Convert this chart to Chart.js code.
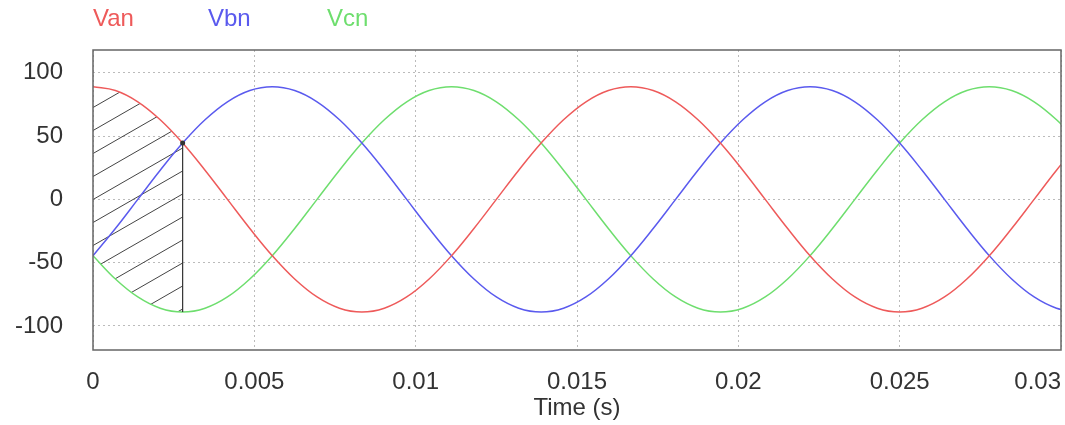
<!DOCTYPE html>
<html>
<head>
<meta charset="utf-8">
<script src="https://cdn.jsdelivr.net/npm/chart.js@4"></script>
<style>
  html, body { margin: 0; padding: 0; background: #fff; }
</style>
</head>
<body>
<canvas id="waveChart" width="1065" height="425"></canvas>
<script>
// Sample times (s), one every 15 degrees of a 60 Hz cycle
const times = [0, 0.000694, 0.001389, 0.002083, 0.002778, 0.003472, 0.004167, 0.004861, 0.005556,
  0.00625, 0.006944, 0.007639, 0.008333, 0.009028, 0.009722, 0.010417, 0.011111, 0.011806, 0.0125,
  0.013194, 0.013889, 0.014583, 0.015278, 0.015972, 0.016667, 0.017361, 0.018056, 0.01875, 0.019444,
  0.020139, 0.020833, 0.021528, 0.022222, 0.022917, 0.023611, 0.024306, 0.025, 0.025694, 0.026389,
  0.027083, 0.027778, 0.028472, 0.029167, 0.029861, 0.030556];

// Phase voltages
const van = [89, 86.0, 77.1, 62.9, 44.5, 23.0, 0, -23.0, -44.5, -62.9, -77.1, -86.0, -89, -86.0, -77.1,
  -62.9, -44.5, -23.0, 0, 23.0, 44.5, 62.9, 77.1, 86.0, 89, 86.0, 77.1, 62.9, 44.5, 23.0, 0, -23.0,
  -44.5, -62.9, -77.1, -86.0, -89, -86.0, -77.1, -62.9, -44.5, -23.0, 0, 23.0, 44.5];
const vbn = [-44.5, -23.0, 0, 23.0, 44.5, 62.9, 77.1, 86.0, 89, 86.0, 77.1, 62.9, 44.5, 23.0, 0, -23.0,
  -44.5, -62.9, -77.1, -86.0, -89, -86.0, -77.1, -62.9, -44.5, -23.0, 0, 23.0, 44.5, 62.9, 77.1, 86.0,
  89, 86.0, 77.1, 62.9, 44.5, 23.0, 0, -23.0, -44.5, -62.9, -77.1, -86.0, -89];
const vcn = [-44.5, -62.9, -77.1, -86.0, -89, -86.0, -77.1, -62.9, -44.5, -23.0, 0, 23.0, 44.5, 62.9,
  77.1, 86.0, 89, 86.0, 77.1, 62.9, 44.5, 23.0, 0, -23.0, -44.5, -62.9, -77.1, -86.0, -89, -86.0, -77.1,
  -62.9, -44.5, -23.0, 0, 23.0, 44.5, 62.9, 77.1, 86.0, 89, 86.0, 77.1, 62.9, 44.5];

const seriesNames = ['Van', 'Vbn', 'Vcn'];
const seriesColors = ['#ee5a5a', '#5a5aee', '#6ede6e'];
const hatchEnd = 4; // hatched window ends at times[4]

const FONT = '"Liberation Sans", Arial, sans-serif';

function toPoints(values, count) {
  return values.slice(0, count).map((v, i) => ({ x: times[i], y: v }));
}

// Diagonal hatch used for the shaded window
function makeHatch(ctx) {
  const c = document.createElement('canvas');
  c.width = 40;
  c.height = 23;
  const g = c.getContext('2d');
  g.strokeStyle = '#444';
  g.lineWidth = 1;
  [-23, 0, 23].forEach(dy => {
    g.beginPath();
    g.moveTo(-4, 25.3 + dy);
    g.lineTo(44, -2.3 + dy);
    g.stroke();
  });
  return ctx.createPattern(c, 'repeat');
}

// Plot frame, coloured legend text, and centred first x label
const extrasPlugin = {
  id: 'extras',
  beforeDraw(chart) {
    const items = chart.scales.x.getLabelItems();
    if (items.length) items[0].options.textAlign = 'center';
  },
  afterDatasetsDraw(chart) {
    const { ctx, chartArea: a } = chart;
    ctx.save();
    ctx.strokeStyle = '#666';
    ctx.lineWidth = 1.5;
    ctx.strokeRect(a.left, a.top, a.right - a.left, a.bottom - a.top);
    ctx.restore();
  },
  afterDraw(chart) {
    const { ctx, chartArea: a } = chart;
    const offsets = [0, 115, 234];
    ctx.save();
    ctx.font = '24px ' + FONT;
    ctx.textBaseline = 'middle';
    ctx.textAlign = 'left';
    seriesNames.forEach((name, i) => {
      ctx.fillStyle = seriesColors[i];
      ctx.fillText(name, a.left + offsets[i], 19);
    });
    ctx.restore();
  }
};

const canvas = document.getElementById('waveChart');
const ctx = canvas.getContext('2d');
const seriesValues = [van, vbn, vcn];

const lineSets = seriesNames.map((name, i) => ({
  label: name,
  data: toPoints(seriesValues[i], times.length),
  borderColor: seriesColors[i],
  borderWidth: 1.5,
  pointRadius: 0,
  tension: 0.4,
  fill: false,
  order: 1
}));

new Chart(ctx, {
  type: 'line',
  data: {
    datasets: [
      ...lineSets,
      {
        label: 'hatchTop',
        data: toPoints(van, hatchEnd + 1),
        borderColor: 'rgba(0,0,0,0)',
        borderWidth: 0,
        pointRadius: 0,
        tension: 0.4,
        fill: '+1',
        backgroundColor: makeHatch(ctx),
        order: 5
      },
      {
        label: 'hatchBottom',
        data: toPoints(vcn, hatchEnd + 1),
        borderColor: 'rgba(0,0,0,0)',
        borderWidth: 0,
        pointRadius: 0,
        tension: 0.4,
        fill: false,
        order: 5
      },
      {
        label: 'cut',
        data: [{ x: times[hatchEnd], y: van[hatchEnd] }, { x: times[hatchEnd], y: vcn[hatchEnd] }],
        borderColor: '#333',
        borderWidth: 1.2,
        pointRadius: [2.5, 0],
        pointBackgroundColor: '#333',
        pointBorderWidth: 0,
        fill: false,
        order: 0
      }
    ]
  },
  options: {
    responsive: false,
    animation: false,
    events: [],
    layout: { padding: { top: 50, right: 0, left: 0, bottom: 0 } },
    plugins: {
      legend: { display: false },
      tooltip: { enabled: false }
    },
    scales: {
      x: {
        type: 'linear',
        min: 0,
        max: 0.03,
        afterFit(scale) { scale.height = 75; },
        grid: { color: '#bbbbbb', drawTicks: true, tickLength: 18, tickColor: 'rgba(0,0,0,0)' },
        border: { display: false, dash: [2, 3] },
        ticks: {
          stepSize: 0.005,
          align: 'inner',
          padding: 0,
          maxRotation: 0,
          color: '#333',
          font: { family: FONT, size: 24 },
          callback: v => String(+v.toFixed(4))
        },
        title: {
          display: true,
          text: 'Time (s)',
          color: '#333',
          font: { family: FONT, size: 24 },
          padding: { top: 0, bottom: 2 }
        }
      },
      y: {
        min: -119,
        max: 118,
        afterFit(scale) { scale.width = 93; },
        grid: { color: '#bbbbbb', drawTicks: false },
        border: { display: false, dash: [2, 3] },
        ticks: {
          stepSize: 50,
          includeBounds: false,
          padding: 30,
          color: '#333',
          font: { family: FONT, size: 24 }
        }
      }
    }
  },
  plugins: [extrasPlugin]
});
</script>
</body>
</html>
